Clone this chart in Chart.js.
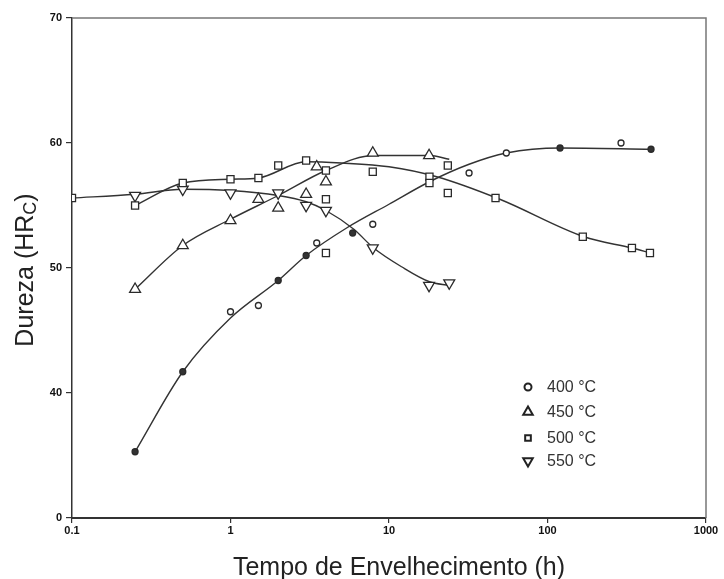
<!DOCTYPE html>
<html>
<head>
<meta charset="utf-8">
<script src="https://cdn.jsdelivr.net/npm/chart.js@4.4.1/dist/chart.umd.min.js"></script>
<style>
  html, body { margin: 0; padding: 0; background: #fff; }
</style>
</head>
<body>
<canvas id="chart" width="724" height="579"></canvas>
<script>
// tick labels (bottom y tick sits at an axis break and reads "0")
var xTickValues = [0.1, 1, 10, 100, 1000];
var xTickLabels = ['0.1', '1', '10', '100', '1000'];
var yTickValues = [30, 40, 50, 60, 70];
var yTickLabels = ['0', '40', '50', '60', '70'];

var seriesNames = ['400 °C', '450 °C', '500 °C', '550 °C'];

// measured points
var t400 = [0.25, 0.5, 1.0, 1.5, 2.0, 3.0, 3.5, 5.9, 7.9, 32, 55, 120, 291, 450];
var h400 = [35.3, 41.7, 46.5, 47.0, 49.0, 51.0, 52.0, 52.8, 53.5, 57.6, 59.2, 59.6, 60.0, 59.5];
var filled400 = [1, 1, 0, 0, 1, 1, 0, 1, 0, 0, 0, 1, 0, 1];

var t450 = [0.25, 0.5, 1.0, 1.5, 2.0, 3.0, 3.5, 4.0, 7.9, 17.9];
var h450 = [48.3, 51.8, 53.8, 55.5, 54.8, 55.9, 58.1, 56.9, 59.2, 59.0];

var t500 = [0.1, 0.25, 0.5, 1.0, 1.5, 2.0, 3.0, 4.0, 4.0, 4.0, 7.9, 18, 18, 23.5, 23.5, 47, 167, 341, 443];
var h500 = [55.6, 55.0, 56.8, 57.1, 57.2, 58.2, 58.6, 57.8, 55.5, 51.2, 57.7, 57.3, 56.8, 58.2, 56.0, 55.6, 52.5, 51.6, 51.2];

var t550 = [0.25, 0.5, 1.0, 2.0, 3.0, 4.0, 7.9, 17.9, 24];
var h550 = [55.8, 56.3, 56.0, 56.0, 55.0, 54.6, 51.6, 48.6, 48.8];

// fitted curves
var fitT400 = [0.25, 0.5, 1, 2, 3, 5.4, 10, 18, 32, 55, 120, 450];
var fitH400 = [35.3, 41.7, 46.0, 49.0, 51.0, 53.2, 55.1, 56.9, 58.3, 59.2, 59.6, 59.5];
var fitT450 = [0.25, 0.5, 1, 2, 4, 8, 18, 24];
var fitH450 = [48.3, 51.8, 53.9, 55.8, 57.8, 59.0, 59.0, 58.7];
var fitT500 = [0.25, 0.5, 1, 1.5, 3, 5, 10, 20, 50, 170, 340, 450];
var fitH500 = [55.0, 56.8, 57.1, 57.2, 58.5, 58.4, 58.1, 57.3, 55.5, 52.5, 51.6, 51.2];
var fitT550 = [0.1, 0.25, 0.5, 1, 2, 3, 4, 6, 8, 12, 18, 24];
var fitH550 = [55.6, 55.9, 56.3, 56.2, 55.8, 55.3, 54.6, 53.1, 51.6, 50.1, 48.9, 48.6];

function pts(xs, ys) {
    var out = [];
    for (var i = 0; i < xs.length; i++) {
        out.push({x: xs[i], y: ys[i]});
    }
    return out;
}

var ink = '#2a2a2a';

function markers(label, xs, ys, style, radius, rotation, fill) {
    return {
        label: label,
        data: pts(xs, ys),
        showLine: false,
        pointStyle: style,
        pointRadius: radius,
        pointRotation: rotation,
        pointBorderColor: ink,
        pointBorderWidth: 1.3,
        pointBackgroundColor: fill || '#fff',
        order: 0
    };
}

function curve(xs, ys) {
    return {
        label: '',
        data: pts(xs, ys),
        showLine: true,
        pointRadius: 0,
        borderColor: '#333',
        borderWidth: 1.4,
        cubicInterpolationMode: 'monotone',
        order: 1
    };
}

var fill400 = filled400.map(function (f) { return f ? '#333' : '#fff'; });

var legendStyles = [
    {style: 'circle', r: 3.5, rot: 0},
    {style: 'triangle', r: 5.5, rot: 0},
    {style: 'rect', r: 4, rot: 0},
    {style: 'triangle', r: 5.5, rot: 180}
];

var framePlugin = {
    id: 'frame',
    beforeDatasetsDraw: function (chart) {
        var a = chart.chartArea;
        var ctx = chart.ctx;
        ctx.save();
        ctx.strokeStyle = '#777';
        ctx.lineWidth = 1.5;
        ctx.beginPath();
        ctx.moveTo(a.left, a.top);
        ctx.lineTo(a.right, a.top);
        ctx.lineTo(a.right, a.bottom);
        ctx.stroke();
        ctx.restore();
    }
};

var textPlugin = {
    id: 'texts',
    afterDraw: function (chart) {
        var ctx = chart.ctx;
        var a = chart.chartArea;
        ctx.save();
        ctx.fillStyle = '#222';

        // x title
        ctx.font = '25px "Liberation Sans", Arial, sans-serif';
        ctx.textAlign = 'center';
        ctx.textBaseline = 'alphabetic';
        ctx.fillText('Tempo de Envelhecimento (h)', (a.left + a.right) / 2 + 10, 575);

        // y title with subscript
        ctx.save();
        ctx.translate(33, (a.top + a.bottom) / 2 + 2);
        ctx.rotate(-Math.PI / 2);
        var big = '25px "Liberation Sans", Arial, sans-serif';
        var small = '18px "Liberation Sans", Arial, sans-serif';
        ctx.font = big;
        var w1 = ctx.measureText('Dureza (HR').width;
        var w3 = ctx.measureText(')').width;
        ctx.font = small;
        var w2 = ctx.measureText('C').width;
        var x0 = -(w1 + w2 + w3) / 2;
        ctx.textAlign = 'left';
        ctx.font = big;
        ctx.fillText('Dureza (HR', x0, 0);
        ctx.font = small;
        ctx.fillText('C', x0 + w1, 3);
        ctx.font = big;
        ctx.fillText(')', x0 + w1 + w2, 0);
        ctx.restore();

        // legend inside the plot
        var lx = a.left + 456;
        var ly = a.top + 369;
        var gaps = [0, 25, 51, 74];
        ctx.font = '16px "Liberation Sans", Arial, sans-serif';
        ctx.textAlign = 'left';
        ctx.textBaseline = 'middle';
        for (var i = 0; i < seriesNames.length; i++) {
            var y = ly + gaps[i];
            var s = legendStyles[i];
            ctx.strokeStyle = '#222';
            ctx.fillStyle = '#fff';
            ctx.lineWidth = 2;
            Chart.helpers.drawPoint(ctx, {pointStyle: s.style, radius: s.r, rotation: s.rot, borderWidth: 2}, lx, y);
            ctx.fillStyle = '#333';
            ctx.fillText(seriesNames[i], lx + 19, y + 1);
        }
        ctx.restore();
    }
};

var config = {
    type: 'scatter',
    data: {
        datasets: [
            markers(seriesNames[0], t400, h400, 'circle', 3, 0, fill400),
            markers(seriesNames[1], t450, h450, 'triangle', 6.3, 0),
            markers(seriesNames[2], t500, h500, 'rect', 5, 0),
            markers(seriesNames[3], t550, h550, 'triangle', 6.3, 180),
            curve(fitT400, fitH400),
            curve(fitT450, fitH450),
            curve(fitT500, fitH500),
            curve(fitT550, fitH550)
        ]
    },
    options: {
        responsive: false,
        animation: false,
        events: [],
        layout: {
            padding: {left: 0, right: 18, top: 18, bottom: 0}
        },
        plugins: {
            legend: {display: false},
            tooltip: {enabled: false}
        },
        scales: {
            x: {
                type: 'logarithmic',
                min: 0.1,
                max: 1000,
                afterBuildTicks: function (scale) {
                    scale.ticks = xTickValues.map(function (v) { return {value: v}; });
                },
                afterFit: function (scale) {
                    scale.height = 61;
                },
                ticks: {
                    autoSkip: false,
                    maxRotation: 0,
                    padding: 1,
                    color: '#111',
                    font: {family: '"Liberation Sans", Arial, sans-serif', size: 11, weight: 'bold'},
                    callback: function (value, index) {
                        return xTickLabels[index];
                    }
                },
                grid: {display: true, drawOnChartArea: false, tickLength: 5, color: '#333', lineWidth: 1.2},
                border: {color: '#333', width: 2}
            },
            y: {
                type: 'linear',
                min: 30,
                max: 70,
                afterBuildTicks: function (scale) {
                    scale.ticks = yTickValues.map(function (v) { return {value: v}; });
                },
                afterFit: function (scale) {
                    scale.width = 72;
                },
                ticks: {
                    autoSkip: false,
                    padding: 4,
                    color: '#111',
                    font: {family: '"Liberation Sans", Arial, sans-serif', size: 11, weight: 'bold'},
                    callback: function (value, index) {
                        return yTickLabels[index];
                    }
                },
                grid: {display: true, drawOnChartArea: false, tickLength: 6, color: '#333', lineWidth: 1.2},
                border: {color: '#333', width: 1.5}
            }
        }
    },
    plugins: [framePlugin, textPlugin]
};

var ctx = document.getElementById('chart').getContext('2d');
new Chart(ctx, config);
</script>
</body>
</html>
